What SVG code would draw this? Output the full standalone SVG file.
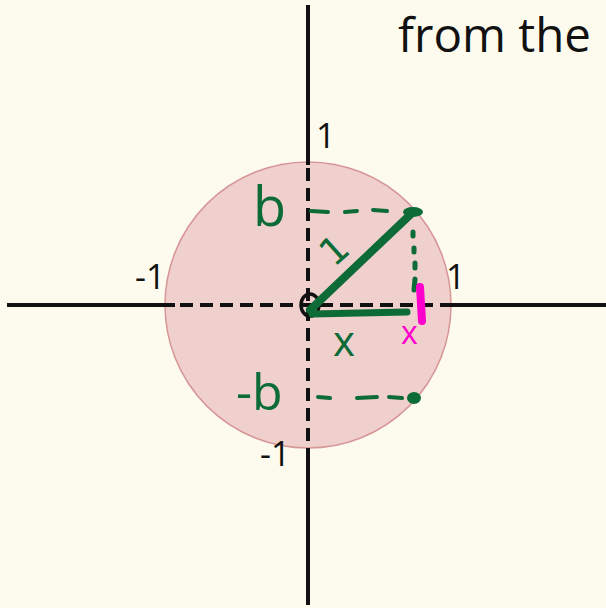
<svg xmlns="http://www.w3.org/2000/svg" width="606" height="608" viewBox="0 0 606 608">
<style>
.ax{stroke:#111;stroke-width:4;fill:none}
.axd{stroke:#111;stroke-width:4;fill:none;stroke-dasharray:13 7}
.lbl{font-family:"Open Sans","Noto Sans",sans-serif;font-size:34px;fill:#111}
.g{stroke:#0d6b37;fill:none;stroke-linecap:round}
.gt{font-family:"Open Sans","Noto Sans",sans-serif;fill:#0d6b37}
</style>
<rect width="606" height="608" fill="#fdfbee"/>
<g id="title"><text x="398" y="52" font-family="Open Sans, Noto Sans, sans-serif" font-size="47.5" fill="#111">from the</text></g>
<g id="circle"><circle cx="308" cy="305" r="143" fill="#efd0cc" stroke="#d79696" stroke-width="1.5"/></g>
<g id="axes">
<line class="ax" x1="7" y1="305" x2="175" y2="305"/>
<line class="axd" x1="180" y1="305" x2="450" y2="305"/>
<line class="ax" x1="450" y1="305" x2="606" y2="305"/>
<line class="ax" x1="308" y1="5" x2="308" y2="165"/>
<line class="axd" x1="308" y1="168" x2="308" y2="448"/>
<line class="ax" x1="308" y1="448" x2="308" y2="605"/>
</g>
<g id="labels">
<text class="lbl" x="316" y="148">1</text>
<text class="lbl" x="135" y="289">-1</text>
<text class="lbl" x="446" y="289">1</text>
<text class="lbl" x="260" y="466">-1</text>
<ellipse cx="310" cy="305" rx="9" ry="11" fill="none" stroke="#111" stroke-width="3.5"/>
</g>
<g id="connectors">
<line class="g" x1="310" y1="310" x2="412" y2="213" stroke-width="8"/>
<ellipse cx="413" cy="212" rx="10" ry="5" fill="#0d6b37"/>
<line class="g" x1="312" y1="314" x2="407" y2="312" stroke-width="7"/>
<path class="g" d="M311 211 L328 212 M345 212 L357 211 M373 210 L387 211" stroke-width="4"/>
<path class="g" d="M413 232 L413 236 M414 248 L414 252 M415 263 L415 268 M415 279 L414 290" stroke-width="5"/>
<path d="M420 287 L422 321" stroke="#ff00cc" stroke-width="8" stroke-linecap="round" fill="none"/>
<path class="g" d="M318 397 L330 398 M357 398 L377 397 M389 397 L402 398" stroke-width="4"/>
<ellipse cx="414" cy="398" rx="7" ry="6" fill="#0d6b37"/>
</g>
<g id="annotations">
<text class="gt" x="253" y="226" font-size="54">b</text>
<text class="gt" x="236" y="410" font-size="50">-b</text>
<text class="gt" x="333" y="356" font-size="42">x</text>
<text x="401" y="344" font-family="Open Sans, Noto Sans, sans-serif" font-size="32" fill="#ff00cc">x</text>
<text x="0" y="0" font-family="DejaVu Sans, sans-serif" font-size="38" fill="#0d6b37" transform="translate(334 268) rotate(-42)">1</text>
</g>
</svg>
